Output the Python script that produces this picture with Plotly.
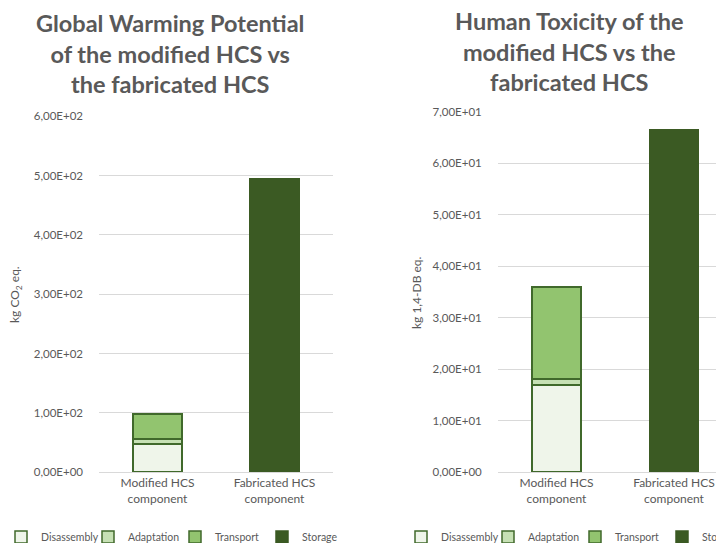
import plotly.graph_objects as go

categories = ["Modified HCS<br>component", "Fabricated HCS<br>component"]
series_names = ["Disassembly", "Adaptation", "Transport", "Storage"]

gwp_disassembly = [47.2, None]
gwp_adaptation = [8.5, None]
gwp_transport = [42.1, None]
gwp_storage = [None, 494.0]

ht_disassembly = [16.9, None]
ht_adaptation = [1.2, None]
ht_transport = [17.9, None]
ht_storage = [None, 66.5]

gwp_tickvals = [0, 100, 200, 300, 400, 500, 600]
gwp_ticktext = ["0,00E+00", "1,00E+02", "2,00E+02", "3,00E+02", "4,00E+02", "5,00E+02", "6,00E+02"]
ht_tickvals = [0, 10, 20, 30, 40, 50, 60, 70]
ht_ticktext = ["0,00E+00", "1,00E+01", "2,00E+01", "3,00E+01", "4,00E+01", "5,00E+01", "6,00E+01", "7,00E+01"]

fills = ["#eff5ea", "#c6e0b4", "#92c46f", "#3b5a23"]
borders = ["#40692b", "#40692b", "#40692b", "#3b5a23"]

FONT = "Lato"
GRAY = "#595959"
W, H = 724, 543
OFF = 8  # page body margin offset


def px(xw):
    return (xw - OFF) / W


def py(yw):
    return (H - (yw - OFF)) / H


fig = go.Figure()

gwp_series = [gwp_disassembly, gwp_adaptation, gwp_transport, gwp_storage]
ht_series = [ht_disassembly, ht_adaptation, ht_transport, ht_storage]

for i, name in enumerate(series_names):
    fig.add_trace(go.Bar(
        x=categories, y=gwp_series[i], name=name,
        marker=dict(color=fills[i], line=dict(color=borders[i], width=1.5)),
        xaxis="x", yaxis="y", legend="legend",
    ))
for i, name in enumerate(series_names):
    fig.add_trace(go.Bar(
        x=categories, y=ht_series[i], name=name,
        marker=dict(color=fills[i], line=dict(color=borders[i], width=1.5)),
        xaxis="x2", yaxis="y2", legend="legend2",
    ))

yaxis_common = dict(
    showgrid=True, gridcolor="#d9d9d9", gridwidth=1,
    zeroline=True, zerolinecolor="#d9d9d9", zerolinewidth=1,
    ticks="", ticklabelstandoff=15,
    tickfont=dict(family=FONT, size=11.5, color=GRAY),
    showline=False, fixedrange=True,
)
xaxis_common = dict(
    type="category", showgrid=False, showline=False,
    ticks="", ticklabelstandoff=2,
    tickfont=dict(family=FONT, size=12, color=GRAY),
)
legend_common = dict(
    orientation="h", y=py(537), yanchor="middle", xanchor="left",
    font=dict(family=FONT, size=10.5, color=GRAY), itemwidth=30,
    entrywidth=42, traceorder="normal", bgcolor="rgba(0,0,0,0)",
)

right_end = 732.75
fig.update_layout(
    width=W, height=H,
    margin=dict(l=0, r=0, t=0, b=0, pad=0, autoexpand=False),
    paper_bgcolor="white", plot_bgcolor="white",
    barmode="stack", bargap=0.58,
    font=dict(family=FONT, color=GRAY),
    xaxis=dict(domain=[px(99), px(333)], range=[-0.5, 1.5],
               tickvals=categories, ticktext=categories, **xaxis_common),
    xaxis2=dict(domain=[px(497.75), 1.0],
                range=[-0.5, 1.5 - (right_end - OFF - W) / 117.5],
                tickvals=categories, ticktext=categories, **xaxis_common),
    yaxis=dict(domain=[py(472), py(116.4)], range=[0, 600],
               tickvals=gwp_tickvals, ticktext=gwp_ticktext, anchor="x", **yaxis_common),
    yaxis2=dict(domain=[py(472), py(112)], range=[0, 70],
                tickvals=ht_tickvals, ticktext=ht_ticktext, anchor="x2", **yaxis_common),
    legend=dict(x=px(1), **legend_common),
    legend2=dict(x=px(401), **legend_common),
    showlegend=True,
)

fig.add_annotation(text="Global Warming Potential<br>of the modified HCS vs<br>the fabricated HCS",
                   x=px(170), y=py(53.5), xref="paper", yref="paper",
                   xanchor="center", yanchor="middle", showarrow=False,
                   font=dict(family=FONT, size=23.5, color=GRAY, weight="bold"))
fig.add_annotation(text="Human Toxicity of the<br>modified HCS vs the<br>fabricated HCS",
                   x=px(568.7), y=py(51.7), xref="paper", yref="paper",
                   xanchor="center", yanchor="middle", showarrow=False,
                   font=dict(family=FONT, size=23.5, color=GRAY, weight="bold"))
fig.add_annotation(text="kg CO<sub>2</sub> eq.", textangle=-90,
                   x=px(15), y=py(295), xref="paper", yref="paper",
                   xanchor="center", yanchor="middle", showarrow=False,
                   font=dict(family=FONT, size=12, color=GRAY))
fig.add_annotation(text="kg 1,4-DB eq.", textangle=-90,
                   x=px(416), y=py(293), xref="paper", yref="paper",
                   xanchor="center", yanchor="middle", showarrow=False,
                   font=dict(family=FONT, size=12, color=GRAY))

fig.write_html("out.html")
